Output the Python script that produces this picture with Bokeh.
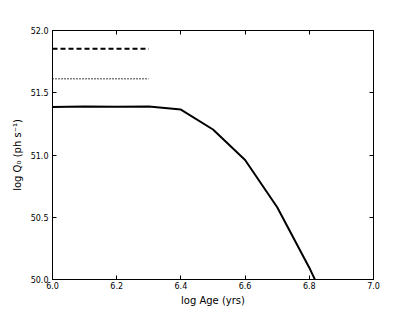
from bokeh.plotting import figure
from bokeh.models import LinearAxis, FixedTicker, Range1d
from bokeh.embed import file_html
from bokeh.resources import INLINE

# Data
age = [6.0, 6.1, 6.2, 6.3, 6.4, 6.5, 6.6, 6.7, 6.8, 6.9]
logQ = [51.385, 51.39, 51.388, 51.39, 51.365, 51.205, 50.96, 50.58, 50.095, 49.55]
ref_age = [6.0, 6.3]
dashed_q = [51.853, 51.853]
dotted_q = [51.612, 51.612]
x_ticks = [6.0, 6.2, 6.4, 6.6, 6.8, 7.0]
y_ticks = [50.0, 50.5, 51.0, 51.5, 52.0]

FONT = "DejaVu Sans"

p = figure(frame_width=321, frame_height=249, output_backend="svg", toolbar_location=None,
           x_range=Range1d(6.0, 7.0), y_range=Range1d(50.0, 52.0),
           min_border_left=52, min_border_right=38, min_border_top=30, min_border_bottom=5)
p.grid.visible = False
p.outline_line_color = "black"
p.outline_line_width = 1
p.background_fill_color = "white"
p.border_fill_color = "white"

p.line(age, logQ, line_color="black", line_width=2)
p.line(ref_age, dashed_q, line_color="black", line_width=2, line_dash="5 3")
p.line(ref_age, dotted_q, line_color="black", line_width=1.5, line_dash="1 2")

def style(ax, labels=True):
    ax.major_tick_in = 4
    ax.major_tick_out = 0
    ax.minor_tick_in = 0
    ax.minor_tick_out = 0
    ax.axis_line_color = "black"
    ax.major_tick_line_color = "black"
    ax.major_label_text_font = FONT
    ax.major_label_text_font_size = "8px"
    ax.major_label_text_color = "black"
    ax.axis_label_text_font = FONT
    ax.axis_label_text_font_size = "10px"
    ax.axis_label_text_font_style = "normal"
    ax.axis_label_text_color = "black"
    if not labels:
        ax.major_label_text_font_size = "0px"
        ax.major_label_text_color = None

p.xaxis.ticker = FixedTicker(ticks=x_ticks)
p.yaxis.ticker = FixedTicker(ticks=y_ticks)
p.xaxis.major_label_overrides = {t: f"{t:.1f}" for t in x_ticks}
p.yaxis.major_label_overrides = {t: f"{t:.1f}" for t in y_ticks}
p.xaxis.axis_label = "log Age (yrs)"
p.yaxis.axis_label = "log Q\u2080 (ph s\u207b\u00b9)"
style(p.xaxis[0])
style(p.yaxis[0])
p.xaxis.major_label_standoff = 2
p.yaxis.major_label_standoff = 4
p.xaxis.axis_label_standoff = 3
p.yaxis.axis_label_standoff = 5

top = LinearAxis(ticker=FixedTicker(ticks=x_ticks))
right = LinearAxis(ticker=FixedTicker(ticks=y_ticks))
style(top, labels=False)
style(right, labels=False)
p.add_layout(top, "above")
p.add_layout(right, "right")

open("out.html", "w").write(file_html(p, INLINE))
